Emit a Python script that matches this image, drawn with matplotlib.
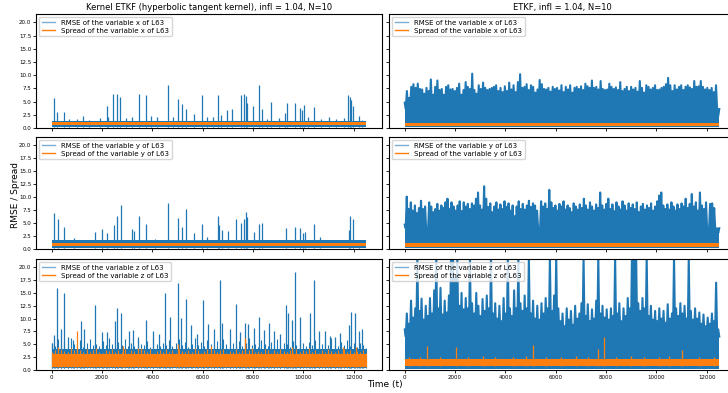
import numpy as np
import matplotlib
matplotlib.use("Agg")
import matplotlib.pyplot as plt
from matplotlib.lines import Line2D

T_END = 12500
Y_MAX = 21.6
variables = ["x", "y", "z"]
titles = ["Kernel ETKF (hyperbolic tangent kernel), infl = 1.04, N=10",
          "ETKF, infl = 1.04, N=10"]
xticks = [0, 2000, 4000, 6000, 8000, 10000, 12000]
yticks = [0.0, 2.5, 5.0, 7.5, 10.0, 12.5, 15.0, 17.5, 20.0]

# ---------------- Kernel ETKF (left column) ----------------
kx_band = [0.2, 1.4]
kx_t = [90, 225, 490, 700, 1000, 1240, 1500, 1900, 2180, 2250, 2440, 2590, 2730, 2950, 3180,
        3460, 3760, 3960, 4200, 4620, 4800, 5020, 5170, 5330, 5660, 5990, 6190, 6400, 6590,
        6740, 6960, 7180, 7510, 7660, 7710, 7760, 8010, 8220, 8370, 8550, 8700, 9050, 9290,
        9360, 9660, 9860, 9940, 10030, 10200, 10430, 10700, 11000, 11300, 11600, 11770, 11840,
        11900, 11970, 12200, 12350]
kx_v = [5.7, 3.0, 3.0, 1.8, 1.7, 2.2, 1.6, 1.9, 4.1, 2.0, 6.5, 6.5, 5.8, 1.9, 2.0, 6.5, 6.2,
        2.2, 2.0, 8.2, 2.0, 5.5, 4.6, 3.6, 2.7, 6.2, 2.1, 2.0, 6.3, 2.5, 3.5, 3.6, 6.2, 6.5,
        6.0, 4.8, 4.2, 8.1, 3.6, 1.8, 4.9, 1.9, 2.9, 4.8, 4.8, 3.7, 3.4, 4.3, 2.0, 3.9, 1.8,
        2.0, 1.8, 1.9, 6.3, 5.8, 5.3, 4.2, 2.3, 1.6]
kx_spread = [0.6, 1.05]

ky_band = [0.2, 1.8]
ky_t = [90, 250, 490, 880, 1700, 2000, 2190, 2470, 2600, 2740, 3200, 3270, 3460, 3760, 4100,
        4630, 5020, 5180, 5330, 5660, 5990, 6190, 6590, 6650, 6760, 7000, 7330, 7520, 7650,
        7730, 7770, 8020, 8230, 8350, 9310, 9680, 9880, 9970, 10060, 10440, 10650, 11800,
        11860, 11960, 12220]
ky_v = [6.9, 5.7, 4.3, 2.2, 3.3, 3.9, 3.0, 4.6, 6.3, 8.4, 3.9, 3.5, 6.3, 4.9, 2.0, 8.8, 6.0,
        4.3, 7.7, 3.0, 4.8, 2.3, 6.3, 4.7, 3.6, 3.4, 5.8, 5.0, 5.8, 7.1, 6.1, 3.3, 4.9, 5.0,
        4.1, 4.3, 4.1, 3.1, 3.3, 4.8, 2.3, 3.6, 6.3, 5.7, 1.7]
ky_spread = [0.5, 1.25]

kz_band = [0.3, 4.0]
kz_env = [5.2, 4.6, 6.0, 4.8, 5.5, 4.4, 6.3, 5.0, 4.7, 5.8, 4.5, 5.3, 6.1, 4.9, 5.0, 4.6, 5.7,
          4.8, 6.2, 5.1, 4.5, 5.4, 4.9, 6.0, 4.7, 5.2, 4.6, 5.9, 5.0, 4.8, 5.6, 4.4, 6.4, 5.1,
          4.7, 5.3, 4.9, 5.8, 4.6, 5.2, 6.0, 4.8, 5.5, 4.5, 5.0, 6.3, 4.9, 5.4, 4.7, 5.9, 5.1,
          4.6, 5.6, 4.8, 6.1, 5.0, 4.5, 5.3, 4.9, 5.7, 4.6, 5.2, 6.2, 4.8, 5.0, 4.5, 5.8, 5.1,
          4.7, 5.5, 4.9, 6.0, 4.6, 5.3, 5.0, 4.4, 5.7, 4.8, 6.1, 5.2, 4.7, 5.4, 4.9, 5.9, 4.5,
          5.1, 5.6, 4.8, 6.3, 5.0, 4.6, 5.5, 4.9, 5.8, 4.7, 5.2, 4.5, 5.3, 4.8, 4.2]
kz_t = [0, 90, 225, 380, 490, 660, 860, 1150, 1290, 1710, 2010, 2210, 2510, 2610, 2750, 3070,
        3240, 3410, 3760, 4040, 4260, 4520, 4720, 5010, 5120, 5340, 5540, 5780, 6000, 6200,
        6440, 6670, 6770, 7100, 7330, 7500, 7700, 7790, 8030, 8240, 8430, 8630, 8820, 9090,
        9310, 9380, 9560, 9680, 9880, 10280, 10440, 10610, 10840, 11070, 11250, 11440, 11800,
        11910, 12040, 12200, 12330]
kz_v = [5.2, 6.9, 16.0, 7.9, 15.0, 6.4, 5.8, 9.6, 7.9, 12.7, 7.3, 7.4, 9.6, 12.1, 11.0, 7.6,
        7.7, 6.4, 9.8, 7.6, 7.0, 15.0, 10.4, 16.9, 10.1, 13.9, 8.7, 7.0, 13.6, 9.0, 7.9, 17.5,
        9.1, 7.9, 12.9, 7.3, 9.1, 8.9, 8.2, 10.4, 7.7, 9.1, 7.6, 7.0, 12.6, 11.0, 9.8, 19.1,
        10.4, 11.0, 17.5, 7.6, 7.6, 6.6, 6.4, 7.2, 8.8, 11.3, 11.0, 7.6, 7.9]
kz_spread_band = [0.6, 3.1]
kz_spread_env = [3.6, 3.9, 3.4, 4.1, 3.7, 3.5, 4.2, 3.8, 3.4, 3.9, 3.6, 4.0, 3.5, 3.8, 4.3, 3.6,
                 3.4, 3.9, 3.7, 4.1, 3.5, 3.8, 3.6, 4.0, 3.4, 3.9, 3.7, 4.2, 3.5, 3.8, 3.6, 4.1,
                 3.4, 3.7, 3.9, 3.5, 4.0, 3.6, 3.8, 3.4, 4.1, 3.7, 3.5, 3.9, 3.6, 4.2, 3.8, 3.4,
                 3.7, 4.0, 3.5, 3.9, 3.6, 3.8, 4.1, 3.4, 3.7, 3.5, 4.0, 3.6, 3.9, 3.4, 3.8, 4.2,
                 3.5, 3.7, 3.6, 4.0, 3.8, 3.4, 3.9, 3.5, 4.1, 3.7, 3.6, 3.8, 3.4, 4.0, 3.5, 3.9,
                 3.7, 4.2, 3.6, 3.8, 3.4, 3.9, 3.5, 4.1, 3.7, 3.6, 3.8, 3.4, 4.0, 3.5, 3.9, 3.6,
                 3.7, 3.5, 3.8, 3.3]
kz_sp_t = [240, 1020, 2820, 3560, 5010, 6320, 7680, 9560, 11560, 12100]
kz_sp_v = [4.4, 7.6, 4.6, 4.3, 5.0, 4.7, 6.2, 4.4, 4.5, 4.5]

# ---------------- ETKF (right column) ----------------
rx_top = [4.8, 7.0, 5.7, 7.8, 8.3, 7.6, 8.4, 7.4, 7.3, 6.5, 7.6, 7.0, 9.2, 6.3, 7.8, 9.0, 7.2,
          7.4, 6.3, 7.8, 8.1, 7.3, 7.4, 7.0, 7.6, 8.4, 6.3, 7.2, 8.7, 7.8, 7.4, 10.3, 7.2, 6.5,
          8.1, 7.4, 8.6, 7.6, 7.2, 7.4, 7.6, 7.8, 8.1, 7.0, 7.6, 6.8, 7.9, 7.0, 8.6, 7.3, 8.1,
          6.8, 8.7, 10.2, 7.6, 7.8, 8.3, 7.2, 8.1, 7.8, 6.7, 7.3, 9.1, 8.3, 7.4, 7.3, 7.6, 6.9,
          7.8, 7.4, 7.6, 7.1, 8.1, 6.8, 7.8, 7.3, 8.1, 6.7, 7.6, 7.8, 7.4, 7.9, 7.2, 8.4, 7.9,
          7.6, 9.0, 7.6, 7.8, 7.3, 8.9, 7.4, 7.2, 7.3, 8.4, 7.8, 7.4, 7.7, 7.2, 8.7, 7.0, 7.4,
          7.8, 7.0, 7.8, 7.3, 7.6, 6.9, 8.9, 7.6, 6.7, 8.1, 7.8, 7.3, 7.6, 8.1, 7.2, 7.3, 7.6,
          7.8, 8.3, 9.5, 8.1, 7.0, 8.1, 7.3, 7.8, 8.1, 7.2, 7.8, 8.1, 7.7, 7.4, 8.9, 7.8, 7.9,
          8.9, 7.8, 7.3, 7.6, 7.2, 7.6, 6.8, 8.1, 2.2]
rx_band = [0.15, 3.6]
rx_spread = [0.3, 0.95]

ry_top = [4.7, 10.1, 7.7, 9.0, 7.4, 8.4, 6.9, 7.9, 9.3, 7.7, 8.2, 2.5, 9.0, 8.2, 7.1, 7.7, 8.7,
          7.4, 8.4, 7.9, 9.0, 9.7, 7.7, 9.0, 8.2, 7.4, 8.4, 9.2, 7.3, 9.0, 8.2, 8.7, 7.7, 8.8,
          8.4, 9.7, 10.9, 8.4, 7.6, 12.1, 9.7, 8.1, 8.8, 7.1, 8.2, 9.0, 7.6, 8.6, 7.7, 9.2,
          8.1, 8.8, 7.4, 8.4, 6.3, 8.2, 9.2, 7.7, 8.7, 7.6, 8.4, 9.3, 8.1, 8.8, 8.4, 7.4, 1.7,
          9.2, 8.2, 8.8, 7.7, 11.4, 9.0, 7.9, 8.4, 7.4, 8.7, 8.2, 9.2, 7.6, 8.4, 7.9, 7.1, 8.8,
          8.2, 7.6, 8.6, 7.9, 9.7, 8.4, 7.6, 9.0, 8.2, 7.4, 8.6, 7.9, 10.9, 8.4, 7.6, 8.7, 9.7,
          7.7, 8.6, 7.3, 9.0, 8.2, 7.6, 9.2, 8.4, 7.4, 8.8, 7.9, 8.6, 7.7, 9.0, 7.1, 8.2, 8.7,
          7.6, 8.4, 7.9, 8.8, 7.4, 8.2, 9.2, 10.3, 10.9, 8.4, 7.7, 8.6, 7.6, 9.0, 8.2, 7.4, 8.6,
          7.7, 8.8, 8.2, 9.7, 7.9, 8.7, 10.6, 8.2, 9.0, 7.4, 10.9, 8.4, 7.7, 9.0, 1.7, 8.7,
          8.8, 7.9, 3.4, 3.1]
ry_band = [0.15, 4.0]
ry_spread = [0.45, 1.1]

rz_top = [7.9, 11.0, 9.0, 13.5, 10.2, 12.0, 22, 11.5, 13.9, 9.8, 12.5, 10.5, 14.0, 11.0, 15.5,
          22, 12.0, 16.0, 10.8, 13.5, 11.2, 14.5, 22, 22, 18.0, 22, 12.5, 15.0, 11.8, 14.0,
          12.0, 22, 13.0, 11.0, 15.0, 12.5, 10.5, 13.8, 11.5, 14.5, 12.0, 22, 11.0, 13.0, 10.0,
          12.5, 9.5, 14.0, 11.0, 22, 12.0, 10.5, 15.5, 12.0, 22, 13.0, 11.5, 14.5, 12.0, 22,
          11.0, 13.5, 10.0, 12.5, 9.8, 13.0, 11.0, 14.0, 12.0, 22, 11.5, 14.5, 22, 12.0, 9.5,
          11.0, 8.5, 12.0, 9.8, 11.5, 8.8, 12.5, 10.0, 11.0, 13.0, 22, 10.5, 12.8, 9.5, 11.8,
          10.0, 13.5, 22, 11.0, 12.5, 10.2, 11.8, 9.8, 12.0, 10.5, 22, 11.0, 13.0, 9.5, 12.0,
          10.5, 14.0, 12.0, 22, 22, 22, 13.0, 11.5, 14.0, 12.0, 22, 10.5, 12.5, 9.8, 11.5, 9.5,
          12.0, 10.0, 11.5, 9.2, 12.8, 10.0, 11.0, 22, 12.0, 10.5, 13.0, 11.0, 12.5, 10.0, 22,
          11.5, 9.8, 12.0, 10.0, 11.2, 9.0, 10.8, 8.5, 10.2, 9.0, 11.0, 9.5, 17.0, 7.9]
rz_band = [0.15, 6.5]
rz_spread = [0.75, 2.2]
rz_sp_t = [150, 600, 890, 1400, 2040, 2500, 3100, 3600, 4300, 4800, 5080, 5600, 6200, 6800,
           7300, 7700, 7900, 8400, 9000, 9500, 10100, 10500, 11000, 11700, 12300]
rz_sp_v = [2.6, 2.5, 4.6, 2.6, 4.5, 2.5, 2.7, 2.6, 2.5, 2.7, 4.9, 2.6, 2.5, 2.7, 2.6, 4.1,
           6.4, 2.5, 2.7, 2.6, 2.5, 2.7, 3.8, 2.6, 2.5]

BLUE = "#1f77b4"
ORANGE = "#ff7f0e"

fig = plt.figure(figsize=(7.28, 3.93), dpi=100)
W, H = 728.0, 393.0
col_x = [36, 389]
col_w = 346
row_y = [14, 137, 259]
row_h = [114, 112, 111]

axes = [[None, None] for _ in range(3)]
for r in range(3):
    for c in range(2):
        axes[r][c] = fig.add_axes([col_x[c] / W, 1 - (row_y[r] + row_h[r]) / H,
                                   col_w / W, row_h[r] / H])


def even_t(n):
    return np.linspace(0, T_END, n)


def zigzag(ax, tops, floor, color, lw, z):
    n = len(tops)
    x = np.linspace(0, T_END, 2 * n)
    y = np.empty(2 * n)
    y[0::2] = tops
    y[1::2] = floor
    ax.plot(x, y, color=color, lw=lw, zorder=z)


def band(ax, lo_hi, color, z):
    ax.fill_between([0, T_END], [lo_hi[0]] * 2, [lo_hi[1]] * 2, color=color, lw=0, zorder=z)


# left column
left = [
    (kx_band, kx_t, kx_v, kx_spread),
    (ky_band, ky_t, ky_v, ky_spread),
]
for r, (bnd, ts, vs, spr) in enumerate(left):
    ax = axes[r][0]
    band(ax, bnd, BLUE, 2)
    ax.vlines(ts, bnd[0], vs, color=BLUE, lw=0.9, zorder=2)
    band(ax, spr, ORANGE, 3)

ax = axes[2][0]
band(ax, kz_band, BLUE, 2)
ax.vlines(even_t(len(kz_env)), kz_band[0], kz_env, color=BLUE, lw=0.8, zorder=2)
ax.vlines(kz_t, kz_band[0], kz_v, color=BLUE, lw=0.9, zorder=2)
band(ax, kz_spread_band, ORANGE, 3)
ax.vlines(even_t(len(kz_spread_env)), kz_spread_band[0], kz_spread_env, color=ORANGE,
          lw=0.8, zorder=3)
ax.vlines(kz_sp_t, kz_spread_band[0], kz_sp_v, color=ORANGE, lw=0.9, zorder=3)

# right column
right = [
    (rx_top, rx_band, rx_spread, [], []),
    (ry_top, ry_band, ry_spread, [], []),
    (rz_top, rz_band, rz_spread, rz_sp_t, rz_sp_v),
]
for r, (tops, bnd, spr, st, sv) in enumerate(right):
    ax = axes[r][1]
    band(ax, bnd, BLUE, 2)
    zigzag(ax, tops, bnd[1], BLUE, 1.5, 2)
    band(ax, spr, ORANGE, 3)
    if st:
        ax.vlines(st, spr[0], sv, color=ORANGE, lw=0.9, zorder=3)

for r in range(3):
    for c in range(2):
        ax = axes[r][c]
        ax.set_xlim(-0.05 * T_END, 1.05 * T_END)
        ax.set_ylim(0, Y_MAX)
        ax.set_xticks(xticks)
        ax.set_yticks(yticks)
        ax.tick_params(labelsize=4, length=2, width=0.6, pad=1.5)
        if r < 2:
            ax.set_xticklabels([])
        if c == 1:
            ax.set_yticklabels([])
        for s in ax.spines.values():
            s.set_linewidth(0.8)
        v = variables[r]
        handles = [Line2D([], [], color=BLUE, alpha=0.6, lw=1.0),
                   Line2D([], [], color=ORANGE, lw=1.0)]
        leg = ax.legend(handles, [f"RMSE of the variable {v} of L63",
                                  f"Spread of the variable {v} of L63"],
                        loc="upper left", fontsize=5, handlelength=2.0,
                        borderaxespad=0.4, labelspacing=0.3, framealpha=0.8)
        leg.set_zorder(5)

axes[0][0].set_title(titles[0], fontsize=6, pad=3)
axes[0][1].set_title(titles[1], fontsize=6, pad=3)
fig.text(15 / W, 1 - 195 / H, "RMSE / Spread", rotation=90, fontsize=6.5,
         ha="center", va="center")
fig.text(385 / W, 1 - 385 / H, "Time (t)", fontsize=6.5, ha="center", va="center")

fig.savefig("out.png", dpi=100)
